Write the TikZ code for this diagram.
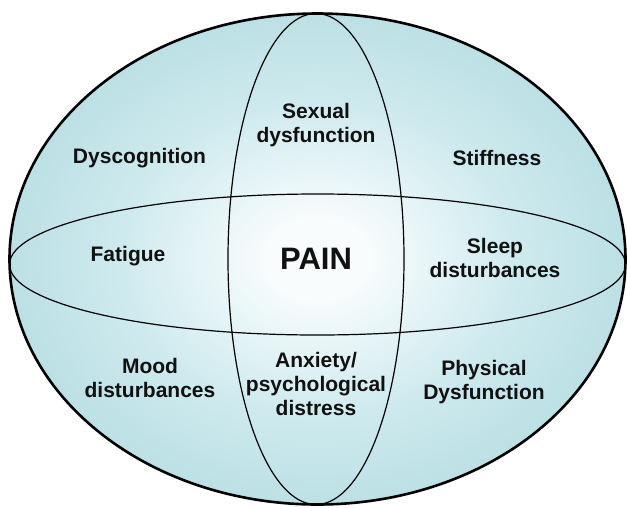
\documentclass[tikz,border=0pt]{standalone}
\usepackage{fontspec}
\setmainfont{Liberation Sans}
\definecolor{edgeblue}{RGB}{188,224,229}
\definecolor{midblue}{RGB}{206,234,238}
\definecolor{centerwhite}{RGB}{248,252,253}
\definecolor{txt}{RGB}{17,17,17}
\pgfdeclareradialshading{painshade}{\pgfpoint{0bp}{0bp}}{color(0bp)=(centerwhite); color(4bp)=(centerwhite); color(16bp)=(midblue); color(25bp)=(edgeblue); color(50bp)=(edgeblue)}
\tikzset{
  lbl/.style={font=\bfseries\fontsize{21}{24}\selectfont, text=txt, align=center, inner sep=0pt},
  bigl/.style={font=\bfseries\fontsize{31}{34}\selectfont, text=txt, inner sep=0pt},
  innerline/.style={draw=black, line width=1.2pt},
}
\begin{document}
\begin{tikzpicture}[x=1pt,y=-1pt]
\useasboundingbox (0,0) rectangle (627,507);
\fill[shading=painshade] (317.5,259) ellipse [x radius=308, y radius=245.5];
\draw[innerline] (316,259) ellipse [x radius=88, y radius=245.5];
\draw[innerline] (317.5,264.5) ellipse [x radius=308, y radius=70.5];
\draw[line width=2.6pt] (317.5,259) ellipse [x radius=308, y radius=245.5];
\node[lbl] (dys) at (139.5,158) {Dyscognition};
\node[lbl] (sex) at (316,125) {Sexual\\dysfunction};
\node[lbl] (stiff) at (497,158) {Stiffness};
\node[lbl] (fat) at (128,256) {Fatigue};
\node[bigl] (pain) at (316,259) {PAIN};
\node[lbl] (sleep) at (495,258) {Sleep\\disturbances};
\node[lbl] (mood) at (150,378) {Mood\\disturbances};
\node[lbl] (anx) at (316,384) {Anxiety/\\psychological\\distress};
\node[lbl] (phys) at (484,382) {Physical\\Dysfunction};
\end{tikzpicture}
\end{document}
